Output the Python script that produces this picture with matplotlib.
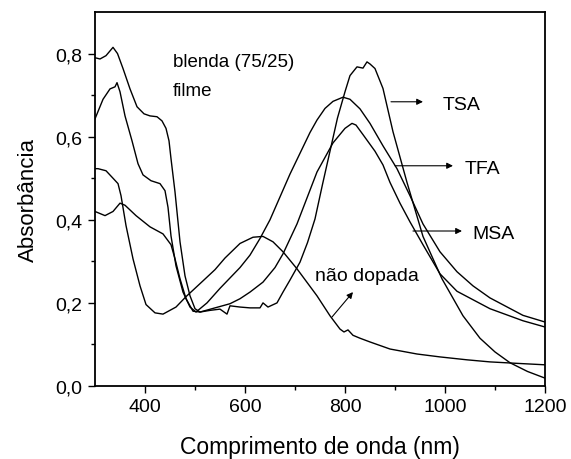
import matplotlib
matplotlib.use("Agg")
import matplotlib.pyplot as plt

plt.rcParams['font.family'] = ['Liberation Sans', 'DejaVu Sans']

# TSA
tsa_x = [300, 310, 322, 336, 345, 356, 370, 384, 398, 410, 424, 434, 442, 448, 452, 460,
         470, 480, 490, 500, 510, 530, 550, 564, 570, 590, 610, 630, 636, 646, 664, 676,
         690, 710, 725, 740, 755, 770, 785, 800, 810, 824, 836, 844, 850, 860, 876, 896,
         924, 956, 994, 1036, 1070, 1100, 1130, 1165, 1200]
tsa_y = [0.79, 0.787, 0.795, 0.815, 0.80, 0.764, 0.715, 0.672, 0.655, 0.65, 0.648, 0.638, 0.62, 0.59, 0.547, 0.467,
         0.347, 0.265, 0.217, 0.186, 0.178, 0.182, 0.185, 0.173, 0.193, 0.19, 0.188, 0.188, 0.2, 0.19, 0.2, 0.226,
         0.255, 0.298, 0.345, 0.402, 0.485, 0.565, 0.645, 0.708, 0.747, 0.768, 0.765, 0.78, 0.775, 0.764, 0.716, 0.612,
         0.49, 0.36, 0.258, 0.169, 0.115, 0.082, 0.056, 0.035, 0.019]

# TFA
tfa_x = [300, 316, 330, 340, 344, 350, 360, 374, 386, 396, 412, 430, 440, 446, 452, 462,
         476, 490, 502, 524, 550, 570, 590, 610, 630, 650, 670, 690, 710, 730, 744, 760,
         776, 796, 810, 830, 850, 876, 904, 930, 956, 990, 1024, 1056, 1090, 1156, 1200]
tfa_y = [0.643, 0.69, 0.715, 0.72, 0.73, 0.708, 0.65, 0.59, 0.535, 0.508, 0.494, 0.487, 0.47, 0.43, 0.361, 0.289,
         0.226, 0.19, 0.178, 0.2, 0.235, 0.26, 0.285, 0.315, 0.355, 0.40, 0.455, 0.51, 0.56, 0.61, 0.64, 0.668,
         0.685, 0.695, 0.69, 0.667, 0.632, 0.578, 0.523, 0.458, 0.39, 0.323, 0.275, 0.241, 0.212, 0.17, 0.154]

# MSA
msa_x = [300, 320, 336, 350, 360, 382, 410, 436, 452, 460, 470, 482, 496, 510, 540, 570,
         590, 610, 636, 660, 676, 704, 720, 744, 776, 800, 814, 822, 836, 860, 876, 890,
         910, 930, 956, 990, 1024, 1090, 1156, 1200]
msa_y = [0.42, 0.41, 0.42, 0.44, 0.435, 0.41, 0.383, 0.366, 0.34, 0.306, 0.258, 0.21, 0.18, 0.178, 0.188, 0.198,
         0.21, 0.226, 0.25, 0.285, 0.318, 0.39, 0.44, 0.515, 0.585, 0.62, 0.632, 0.628, 0.605, 0.565, 0.532, 0.49,
         0.44, 0.395, 0.34, 0.27, 0.228, 0.186, 0.157, 0.142]

# nao dopada
nd_x = [300, 306, 322, 336, 346, 352, 362, 376, 390, 402, 420, 436, 462, 482, 516, 540,
        560, 590, 616, 636, 656, 676, 704, 744, 770, 790, 798, 806, 816, 830, 850, 890,
        944, 990, 1044, 1090, 1136, 1200]
nd_y = [0.523, 0.523, 0.518, 0.50, 0.487, 0.458, 0.386, 0.306, 0.241, 0.196, 0.176, 0.173, 0.19, 0.215, 0.253, 0.28,
        0.308, 0.343, 0.358, 0.36, 0.347, 0.323, 0.282, 0.217, 0.169, 0.137, 0.13, 0.135, 0.122, 0.115, 0.106, 0.089,
        0.077, 0.07, 0.063, 0.058, 0.055, 0.051]

x_ticks = [400, 600, 800, 1000, 1200]
y_ticks = [0.0, 0.2, 0.4, 0.6, 0.8]
y_labels = ['0,0', '0,2', '0,4', '0,6', '0,8']

fig = plt.figure(figsize=(5.71, 4.6), dpi=100)
ax = fig.add_axes([0.1664, 0.1587, 0.788, 0.813])

for xs, ys in [(tsa_x, tsa_y), (tfa_x, tfa_y), (msa_x, msa_y), (nd_x, nd_y)]:
    ax.plot(xs, ys, color='black', lw=1.0)

ax.set_xlim(300, 1200)
ax.set_ylim(0, 0.9)
ax.set_xticks(x_ticks)
ax.set_xticks([500, 700, 900, 1100], minor=True)
ax.set_yticks(y_ticks)
ax.set_yticklabels(y_labels)
ax.set_yticks([0.1, 0.3, 0.5, 0.7], minor=True)
ax.tick_params(which='major', direction='out', length=5, width=1.0, labelsize=14, pad=4)
ax.tick_params(which='minor', direction='out', length=3, width=1.0)
for s in ax.spines.values():
    s.set_linewidth(1.3)

ax.set_xlabel('Comprimento de onda (nm)', fontsize=16.5, labelpad=14)
ax.set_ylabel('Absorbância', fontsize=16, labelpad=12)

ax.text(456, 0.78, 'blenda (75/25)', fontsize=13.5, va='center')
ax.text(456, 0.711, 'filme', fontsize=13.5, va='center')

arrow = dict(arrowstyle='-|>', color='black', lw=0.8, mutation_scale=9, shrinkA=0, shrinkB=0)
ax.annotate('', xy=(956, 0.684), xytext=(892, 0.684), arrowprops=arrow)
ax.text(996, 0.678, 'TSA', fontsize=14, va='center')
ax.annotate('', xy=(1016, 0.530), xytext=(900, 0.530), arrowprops=arrow)
ax.text(1040, 0.523, 'TFA', fontsize=14, va='center')
ax.annotate('', xy=(1034, 0.373), xytext=(936, 0.373), arrowprops=arrow)
ax.text(1054, 0.366, 'MSA', fontsize=14, va='center')
ax.annotate('', xy=(816, 0.226), xytext=(774, 0.166), arrowprops=arrow)
ax.text(740, 0.265, 'não dopada', fontsize=14, va='center')

fig.savefig('out.png', dpi=100)
